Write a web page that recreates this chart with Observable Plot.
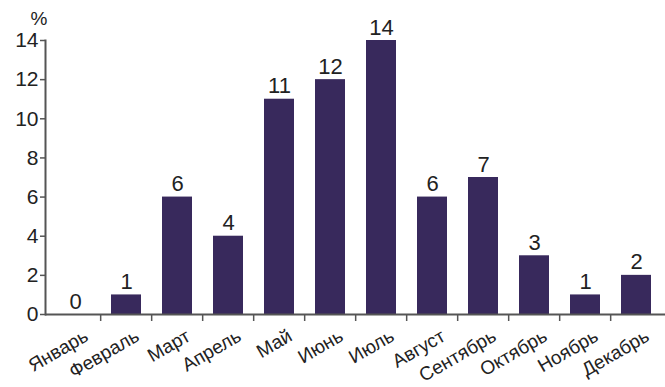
<!DOCTYPE html>
<html><head><meta charset="utf-8">
<script src="https://cdn.jsdelivr.net/npm/d3@7"></script>
<script src="https://cdn.jsdelivr.net/npm/@observablehq/plot@0.6"></script>
<style>body{margin:0;background:#fff}#c{position:relative;width:665px;height:387px}</style>
</head><body><div id="c"></div>
<script>
const months = ["Январь","Февраль","Март","Апрель","Май","Июнь","Июль","Август","Сентябрь","Октябрь","Ноябрь","Декабрь"];
const values = [0,1,6,4,11,12,14,6,7,3,1,2];
const yTicks = [0,2,4,6,8,10,12,14];
const unitLabel = "%";

const data = months.map((m,i)=>({month:m, value:values[i]}));
const W = 665, H = 387, ML = 45, MR = 0;
const step = (W - ML - MR) / months.length;
const font = "Liberation Sans, Arial, sans-serif";

const chart = Plot.plot({
  width: W, height: H,
  marginLeft: ML, marginRight: MR, marginTop: 40, marginBottom: 73,
  style: {fontFamily: font, background: "#fff", color: "#222"},
  x: {domain: months, paddingInner: 0.42, paddingOuter: 0.21, axis: null},
  y: {type: "linear", domain: [0,14], axis: null},
  marks: [
    Plot.barY(data, {x: "month", y: "value", fill: "#38295c"}),
    Plot.text(data, {x: "month", y: "value", text: d => String(d.value), lineAnchor: "bottom", dy: -6, fontSize: 22, fill: "#222"}),
    Plot.ruleX(months.slice(1), {x: d => d, dx: -step/2, y1: 0, y2: 0, insetBottom: -7, stroke: "#555", strokeWidth: 1.5}),
    Plot.frame({anchor: "left", stroke: "#555", strokeWidth: 2}),
    Plot.ruleY([0], {stroke: "#555", strokeWidth: 2}),
    Plot.axisY({ticks: yTicks, tickSize: 5, tickPadding: 2, fontSize: 21, stroke: "#555", strokeWidth: 1.5, tickFormat: d => String(d), fill: "#222", label: null}),
    Plot.text(data, {x: "month", y: 0, text: "month", rotate: -30, textAnchor: "end", lineAnchor: "middle", dx: 11, dy: 20, fontSize: 19, fill: "#222"}),
    Plot.text([unitLabel], {frameAnchor: "top-left", text: d => d, dx: -15, dy: -29, fontSize: 19, fill: "#222"})
  ]
});
document.getElementById("c").appendChild(chart);
</script></body></html>
